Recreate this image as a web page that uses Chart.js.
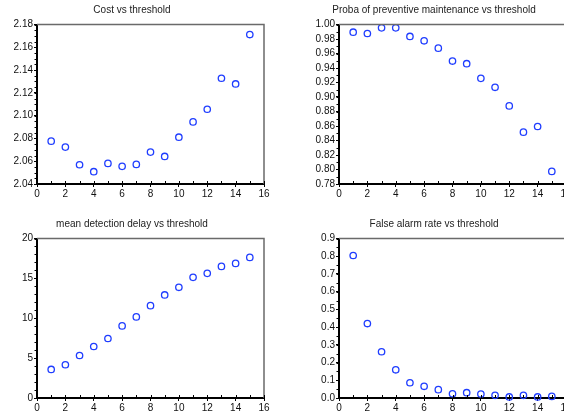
<!DOCTYPE html>
<html>
<head>
<meta charset="utf-8">
<script src="https://cdn.jsdelivr.net/npm/chart.js@4/dist/chart.umd.min.js"></script>
<style>
  html, body { margin: 0; padding: 0; background: #fff; overflow: hidden; width: 564px; height: 414px; position: relative; }
  .box { position: absolute; width: 282px; height: 207px; }
</style>
</head>
<body>
<div class="box" style="left:0;top:0"><canvas id="c1"></canvas></div>
<div class="box" style="left:302px;top:0"><canvas id="c2"></canvas></div>
<div class="box" style="left:0;top:214px"><canvas id="c3"></canvas></div>
<div class="box" style="left:302px;top:214px"><canvas id="c4"></canvas></div>
<script>
// ---- data ----
const thresholds = [1, 2, 3, 4, 5, 6, 7, 8, 9, 10, 11, 12, 13, 14, 15];
const costValues = [2.0776, 2.0724, 2.0569, 2.0508, 2.0581, 2.0555, 2.0572, 2.0680, 2.0642, 2.0811, 2.0945, 2.1056, 2.1328, 2.1278, 2.1712];
const probaValues = [0.9894, 0.9876, 0.9954, 0.9954, 0.9835, 0.9775, 0.9674, 0.9496, 0.9459, 0.9257, 0.9134, 0.8877, 0.8515, 0.8593, 0.7974];
const delayValues = [3.58, 4.17, 5.33, 6.46, 7.46, 9.04, 10.17, 11.58, 12.92, 13.88, 15.13, 15.63, 16.50, 16.88, 17.63];
const falseAlarmValues = [0.804, 0.420, 0.261, 0.159, 0.086, 0.066, 0.047, 0.024, 0.030, 0.0225, 0.015, 0.006, 0.015, 0.006, 0.009];

const xTicks = [0, 2, 4, 6, 8, 10, 12, 14, 16];
const costTicks = [2.04, 2.06, 2.08, 2.10, 2.12, 2.14, 2.16, 2.18];
const probaTicks = [0.78, 0.80, 0.82, 0.84, 0.86, 0.88, 0.90, 0.92, 0.94, 0.96, 0.98, 1.00];
const delayTicks = [0, 5, 10, 15, 20];
const falseAlarmTicks = [0.0, 0.1, 0.2, 0.3, 0.4, 0.5, 0.6, 0.7, 0.8, 0.9];

const titles = ['Cost vs threshold', 'Proba of preventive maintenance vs threshold', 'mean detection delay vs threshold', 'False alarm rate vs threshold'];

const FONT = "'Liberation Sans', Arial, Helvetica, sans-serif";

const framePlugin = {
  id: 'frame',
  afterDraw(chart, args, opts) {
    const ctx = chart.ctx, a = chart.chartArea;
    const xs = chart.scales.x, ys = chart.scales.y;
    ctx.save();
    ctx.strokeStyle = '#6a6a6a';
    ctx.lineWidth = 1.5;
    ctx.beginPath();
    ctx.moveTo(a.left, a.top); ctx.lineTo(a.right, a.top); ctx.lineTo(a.right, a.bottom);
    ctx.stroke();
    ctx.strokeStyle = '#000';
    ctx.lineWidth = 1;
    ctx.beginPath();
    const xm = opts.xMinor, ym = opts.yMinor;
    for (let v = xs.min; v <= xs.max + 1e-9; v += xm) {
      const p = Math.round(xs.getPixelForValue(v)) + 0.5;
      ctx.moveTo(p, a.bottom); ctx.lineTo(p, a.bottom - 3);
    }
    const n = Math.round((ys.max - ys.min) / ym);
    for (let i = 0; i <= n; i++) {
      const v = ys.min + i * ym;
      const p = Math.round(ys.getPixelForValue(v)) + 0.5;
      ctx.moveTo(a.left, p); ctx.lineTo(a.left - 2.5, p);
    }
    ctx.stroke();
    ctx.restore();
  }
};

function makeChart(id, title, values, yTicks, decimals, yMinor) {
  new Chart(document.getElementById(id), {
    type: 'scatter',
    data: {
      datasets: [{
        data: thresholds.map((t, i) => ({ x: t, y: values[i] })),
        borderColor: '#1f3dff',
        backgroundColor: 'rgba(0,0,0,0)',
        pointRadius: 3.2,
        pointBorderWidth: 1.3,
        pointHoverRadius: 3.2,
        clip: false
      }]
    },
    options: {
      responsive: true,
      maintainAspectRatio: false,
      animation: false,
      events: [],
      layout: { padding: { left: 0, right: 18, top: 0, bottom: 0 } },
      plugins: {
        legend: { display: false },
        tooltip: { enabled: false },
        title: {
          display: true, text: title, color: '#222',
          font: { family: FONT, size: 10, weight: 'normal' },
          padding: { top: 4, bottom: 8.5 }
        },
        frame: { xMinor: 1, yMinor: yMinor }
      },
      scales: {
        x: {
          type: 'linear', min: 0, max: 16,
          afterBuildTicks: s => { s.ticks = xTicks.map(v => ({ value: v })); },
          afterFit: s => { s.height = 23; },
          grid: { drawOnChartArea: false, drawTicks: true, tickLength: 3, tickColor: '#000', tickWidth: 1 },
          border: { display: true, color: '#000', width: 2 },
          ticks: { color: '#111', font: { family: FONT, size: 10 }, padding: 1, maxRotation: 0, autoSkip: false,
                   callback: v => String(v) }
        },
        y: {
          type: 'linear', min: yTicks[0], max: yTicks[yTicks.length - 1],
          afterBuildTicks: s => { s.ticks = yTicks.map(v => ({ value: v })); },
          afterFit: s => { s.width = 37; },
          grid: { drawOnChartArea: false, drawTicks: true, tickLength: 3, tickColor: '#000', tickWidth: 1 },
          border: { display: true, color: '#000', width: 2 },
          ticks: { color: '#111', font: { family: FONT, size: 10 }, padding: 1, autoSkip: false,
                   callback: v => Number(v).toFixed(decimals) }
        }
      }
    },
    plugins: [framePlugin]
  });
}

makeChart('c1', titles[0], costValues, costTicks, 2, 0.005);
makeChart('c2', titles[1], probaValues, probaTicks, 2, 0.01);
makeChart('c3', titles[2], delayValues, delayTicks, 0, 1);
makeChart('c4', titles[3], falseAlarmValues, falseAlarmTicks, 1, 0.05);
</script>
</body>
</html>
